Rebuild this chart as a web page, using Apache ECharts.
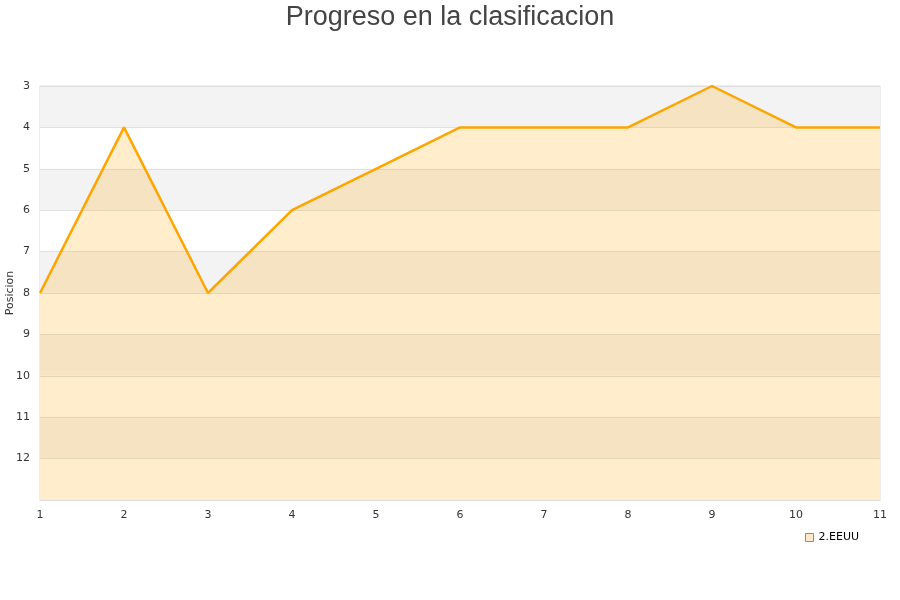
<!DOCTYPE html>
<html><head><meta charset="utf-8">
<script src="https://cdn.jsdelivr.net/npm/echarts@6/dist/echarts.min.js"></script>
<style>html,body{margin:0;padding:0;background:#fff}#c{width:900px;height:600px}</style>
</head><body><div id="c"></div>
<script>
var categories = ['1','2','3','4','5','6','7','8','9','10','11'];
var seriesName = '2.EEUU';
var positions = [8,4,8,6,5,4,4,4,3,4,4];
var yTicks = ['3','4','5','6','7','8','9','10','11','12'];

var chart = echarts.init(document.getElementById('c'));
chart.setOption({
  animation: false,
  title: {text: 'Progreso en la clasificacion', left: 'center', top: -1,
    textStyle: {fontFamily: 'Liberation Sans', fontSize: 27, fontWeight: 'normal', color: '#444'}},
  grid: {left: 40, right: 20, top: 86, bottom: 100, containLabel: false, outerBoundsMode: 'none',
    show: true, borderColor: '#ddd', borderWidth: 1, backgroundColor: 'transparent'},
  legend: {data: [{name: seriesName, itemStyle: {color: '#fdebc8', borderColor: '#a08868', borderWidth: 1}}],
    right: 36, top: 527, icon: 'rect', itemWidth: 8, itemHeight: 8, itemGap: 10,
    textStyle: {fontFamily: 'DejaVu Sans', fontSize: 11, color: '#000'}},
  xAxis: {type: 'category', data: categories, boundaryGap: false,
    axisLine: {lineStyle: {color: '#ddd'}}, axisTick: {show: false},
    axisLabel: {color: '#333', fontFamily: 'DejaVu Sans', fontSize: 11, margin: 10},
    splitLine: {show: false}},
  yAxis: {type: 'value', inverse: true, min: 3, max: 13, interval: 1,
    name: 'Posicion', nameLocation: 'middle', nameGap: 24, nameRotate: 90, nameMoveOverlap: false,
    nameTextStyle: {fontFamily: 'DejaVu Sans', fontSize: 11, color: '#333'},
    axisLine: {show: false}, axisTick: {show: false},
    axisLabel: {color: '#333', fontFamily: 'DejaVu Sans', fontSize: 11, margin: 10,
      formatter: function(v){ return yTicks.indexOf(String(v)) >= 0 ? String(v) : ''; }},
    splitLine: {show: true, lineStyle: {color: '#e0e0e0'}},
    splitArea: {show: true, areaStyle: {color: ['#f3f3f3', '#ffffff']}}},
  series: [{name: seriesName, type: 'line', data: positions, showSymbol: false, symbol: 'none',
    lineStyle: {color: '#ffa500', width: 2.5}, itemStyle: {color: '#ffa500'},
    areaStyle: {color: '#ffa500', opacity: 0.2, origin: 'end'}}]
});
</script></body></html>
